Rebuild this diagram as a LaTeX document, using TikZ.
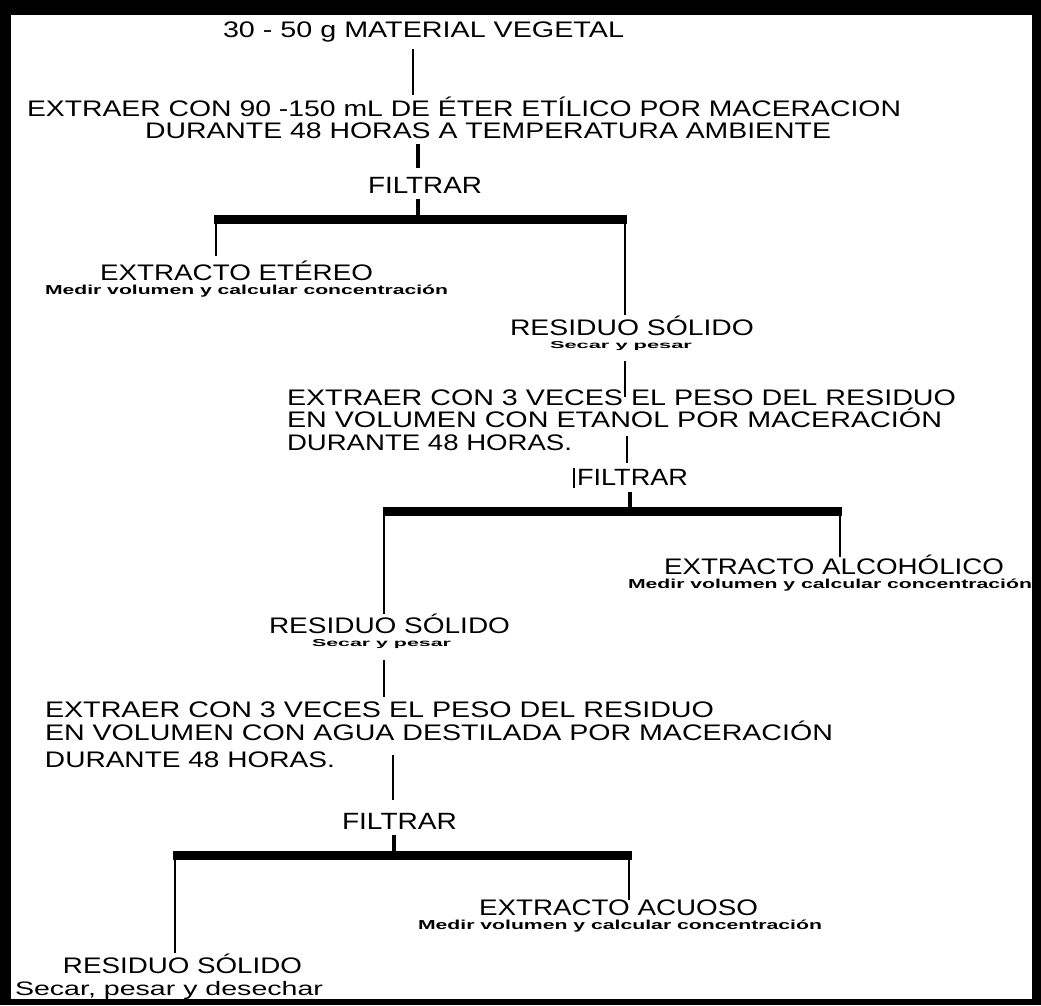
\documentclass[tikz,border=0pt]{standalone}
\usepackage{fontspec}
\usepackage{graphicx}
\setmainfont{Liberation Sans}
\newcommand\fitw[2]{\resizebox{#1pt}{\height}{#2}}
\tikzset{
  tx/.style={anchor=base west, inner sep=0pt, outer sep=0pt, font=\fontsize{22.5}{26}\selectfont},
  fl/.style={tx, font=\fontsize{23.5}{27}\selectfont},
  sm/.style={tx, font=\fontsize{13}{15}\selectfont\bfseries},
  ssm/.style={tx, font=\fontsize{10}{12}\selectfont\bfseries},
  big/.style={tx, font=\fontsize{19.5}{23}\selectfont},
  ln/.style={line width=2.5pt, line cap=butt},
  lnb/.style={line width=4.5pt, line cap=butt},
  bar/.style={line width=9.5pt, line cap=butt}
}
\begin{document}
\begin{tikzpicture}[x=1pt,y=-1pt]
\useasboundingbox (0,0) rectangle (1041,1005);
\fill[black] (0,0) rectangle (1041,1005);
\fill[white] (11,15) rectangle (1032,999);

% texts
\node[tx] (title) at (223,37) {\fitw{401}{30 - 50 g MATERIAL VEGETAL}};
\node[tx] (e1a) at (27,116) {\fitw{874}{EXTRAER CON 90 -150 mL DE ÉTER ETÍLICO POR MACERACION}};
\node[tx] (e1b) at (145,138) {\fitw{686}{DURANTE 48 HORAS A TEMPERATURA AMBIENTE}};
\node[fl] (f1) at (368,193) {\fitw{114}{FILTRAR}};
\node[tx] (ete) at (100,280) {\fitw{273}{EXTRACTO ETÉREO}};
\node[sm] (ete2) at (45,294) {\fitw{403}{Medir volumen y calcular concentración}};
\node[tx] (rs1) at (510,335) {\fitw{244}{RESIDUO SÓLIDO}};
\node[ssm] (rs1b) at (550,348) {\fitw{142}{Secar y pesar}};
\node[tx] (e2a) at (287,405) {\fitw{669}{EXTRAER CON 3 VECES EL PESO DEL RESIDUO}};
\node[tx] (e2b) at (287,427) {\fitw{655}{EN VOLUMEN CON ETANOL POR MACERACIÓN}};
\node[tx] (e2c) at (287,450) {\fitw{285}{DURANTE 48 HORAS.}};
\node[fl] (f2) at (577,485) {\fitw{111}{FILTRAR}};
\node[tx] (alc) at (664,574) {\fitw{340}{EXTRACTO ALCOHÓLICO}};
\node[sm] (alc2) at (628,588) {\fitw{404}{Medir volumen y calcular concentración}};
\node[tx] (rs2) at (269,633) {\fitw{241}{RESIDUO SÓLIDO}};
\node[ssm] (rs2b) at (312,646) {\fitw{139}{Secar y pesar}};
\node[tx] (e3a) at (45,717) {\fitw{669}{EXTRAER CON 3 VECES EL PESO DEL RESIDUO}};
\node[tx] (e3b) at (45,740) {\fitw{788}{EN VOLUMEN CON AGUA DESTILADA POR MACERACIÓN}};
\node[tx] (e3c) at (45,767) {\fitw{290}{DURANTE 48 HORAS.}};
\node[fl] (f3) at (342,829) {\fitw{115}{FILTRAR}};
\node[tx] (acu) at (479,915) {\fitw{279}{EXTRACTO ACUOSO}};
\node[sm] (acu2) at (418,929) {\fitw{404}{Medir volumen y calcular concentración}};
\node[tx] (rs3) at (63,973) {\fitw{239}{RESIDUO SÓLIDO}};
\node[big] (rs3b) at (15,995) {\fitw{308}{Secar, pesar y desechar}};

% connector coordinates
\coordinate (a1) at (413,49);  \coordinate (a2) at (413,95);
\coordinate (b1) at (418,144); \coordinate (b2) at (418,168);
\coordinate (c1) at (418,199); \coordinate (c2) at (418,216);
\coordinate (k1L) at (214,219.5); \coordinate (k1R) at (627,219.5);
\coordinate (d1) at (216,219); \coordinate (d2) at (216,256);
\coordinate (g1) at (625,219); \coordinate (g2) at (625,315);
\coordinate (h1) at (625,361); \coordinate (h2) at (625,397);
\coordinate (i1) at (627,436); \coordinate (i2) at (627,463);
\coordinate (p1) at (574,468); \coordinate (p2) at (574,488);
\coordinate (j1) at (630,492); \coordinate (j2) at (630,508);
\coordinate (k2L) at (383,511.5); \coordinate (k2R) at (842,511.5);
\coordinate (m1) at (384,511); \coordinate (m2) at (384,614);
\coordinate (n1) at (840,511); \coordinate (n2) at (840,557);
\coordinate (o1) at (384,660); \coordinate (o2) at (384,697);
\coordinate (q1) at (393,755); \coordinate (q2) at (393,800);
\coordinate (r1) at (394,835); \coordinate (r2) at (394,852);
\coordinate (k3L) at (173,855.5); \coordinate (k3R) at (632,855.5);
\coordinate (s1) at (175,855); \coordinate (s2) at (175,953);
\coordinate (t1) at (629,855); \coordinate (t2) at (629,900);

\draw[ln] (a1) -- (a2);
\draw[lnb] (b1) -- (b2);
\draw[lnb] (c1) -- (c2);
\draw[bar] (k1L) -- (k1R);
\draw[ln] (d1) -- (d2);
\draw[ln] (g1) -- (g2);
\draw[ln] (h1) -- (h2);
\draw[ln] (i1) -- (i2);
\draw[line width=1.2pt] (p1) -- (p2);
\draw[lnb] (j1) -- (j2);
\draw[bar] (k2L) -- (k2R);
\draw[ln] (m1) -- (m2);
\draw[ln] (n1) -- (n2);
\draw[ln] (o1) -- (o2);
\draw[ln] (q1) -- (q2);
\draw[lnb] (r1) -- (r2);
\draw[bar] (k3L) -- (k3R);
\draw[ln] (s1) -- (s2);
\draw[ln] (t1) -- (t2);
\end{tikzpicture}
\end{document}
